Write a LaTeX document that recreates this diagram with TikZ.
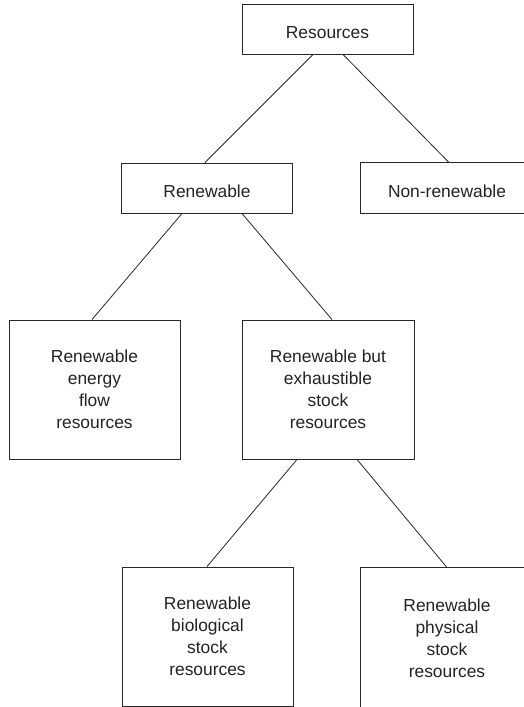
\documentclass[tikz,border=0pt]{standalone}
\usepackage{fontspec}
\setmainfont{Liberation Sans}
\definecolor{linec}{RGB}{40,40,40}
\definecolor{textc}{RGB}{35,35,35}
\begin{document}
\begin{tikzpicture}[x=1pt,y=-1pt,
  box/.style={draw=linec, line width=0.9pt, rectangle, align=center, inner sep=0pt,
    font=\fontsize{17.4}{22}\selectfont, text=textc},
  onebox/.style={box, minimum width=171pt, minimum height=50pt, text height=18pt, text depth=0pt},
  tallbox/.style={box, minimum width=171pt, minimum height=139pt},
  openbox/.style={draw=none},
  edge/.style={draw=linec, line width=0.9pt},
  conn/.style={draw=linec, line width=0.8pt}]
\useasboundingbox (0,0) rectangle (523,707);
\fill[white] (0,0) rectangle (523,707);

\node[onebox] (res) at (327.5,29) {Resources};
\node[onebox] (ren) at (207,188) {Renewable};
\node[onebox, openbox, minimum width=172pt] (non) at (447,188) {Non-renewable};

\node[tallbox] (flow) at (94.5,389.5) {Renewable\\energy\\flow\\resources};
\node[tallbox, minimum width=172pt] (exh) at (328,389.5) {Renewable but\\exhaustible\\stock\\resources};

\node[tallbox] (bio) at (207.5,636.5) {Renewable\\biological\\stock\\resources};
\node[tallbox, openbox, minimum width=172pt, minimum height=141pt] (phys) at (447,638.5) {Renewable\\physical\\stock\\resources};

% boxes cut by the right and bottom edges of the picture
\draw[edge] ([xshift=30pt]non.north east) -- (non.north west) -- (non.south west) -- ([xshift=30pt]non.south east);
\draw[edge] ([xshift=30pt]phys.north east) -- (phys.north west) -- ([yshift=-10pt]phys.south west);

\draw[conn] ([xshift=-14.5pt]res.south) -- ([xshift=-2pt]ren.north);
\draw[conn] ([xshift=15.5pt]res.south) -- ([xshift=2pt]non.north);
\draw[conn] ([xshift=-25pt]ren.south) -- ([xshift=-2.5pt]flow.north);
\draw[conn] ([xshift=35pt]ren.south) -- ([xshift=4pt]exh.north);
\draw[conn] ([xshift=-31pt]exh.south) -- ([xshift=-0.5pt]bio.north);
\draw[conn] ([xshift=29pt]exh.south) -- (phys.north);
\end{tikzpicture}
\end{document}
